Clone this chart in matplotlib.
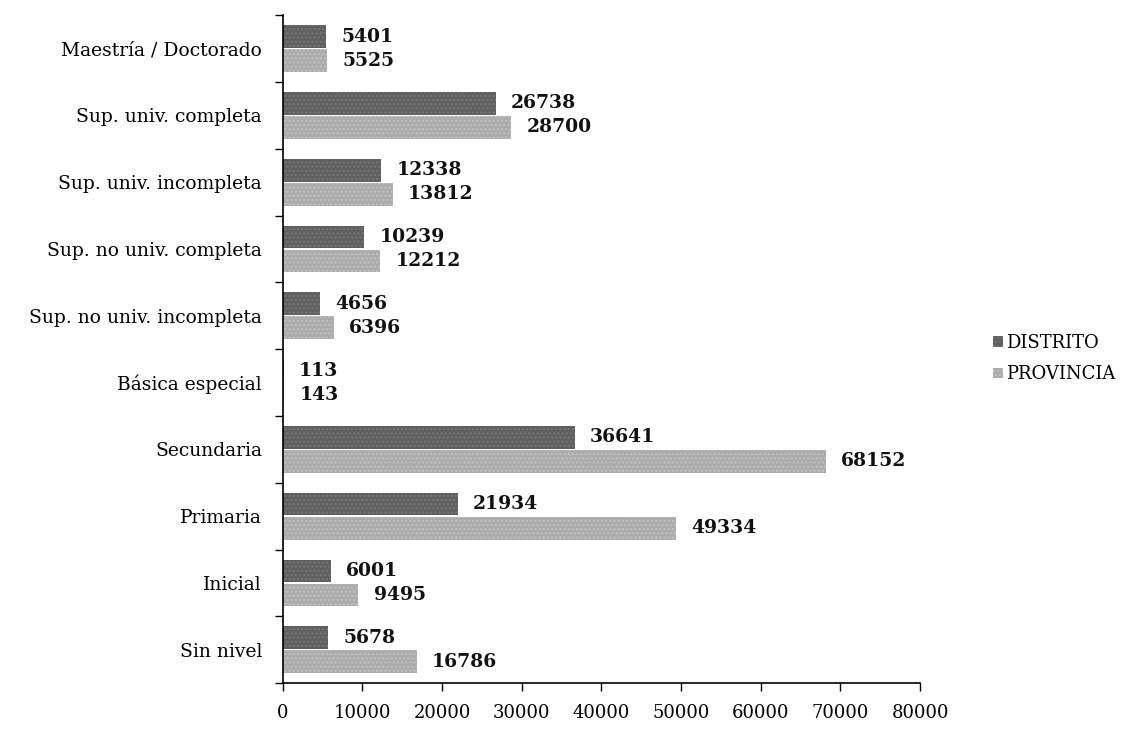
import matplotlib
matplotlib.use("Agg")
import matplotlib.pyplot as plt
import numpy as np
from matplotlib.ticker import FixedLocator

categories = ["Sin nivel", "Inicial", "Primaria", "Secundaria", "Básica especial",
              "Sup. no univ. incompleta", "Sup. no univ. completa",
              "Sup. univ. incompleta", "Sup. univ. completa", "Maestría / Doctorado"]
distrito = [5678, 6001, 21934, 36641, 113, 4656, 10239, 12338, 26738, 5401]
provincia = [16786, 9495, 49334, 68152, 143, 6396, 12212, 13812, 28700, 5525]
xticks = [0, 10000, 20000, 30000, 40000, 50000, 60000, 70000, 80000]

plt.rcParams['font.family'] = ['DejaVu Serif']

fig = plt.figure(figsize=(11.45, 7.29), dpi=100)
ax = fig.add_axes([0.247, 0.063, 0.8035 - 0.247, 0.979 - 0.063])

y = np.arange(len(categories))
h = 0.34
gap = 0.02
c_d = "#606060"
c_p = "#acacac"
bd = ax.barh(y + h/2 + gap/2, distrito, height=h, color=c_d, hatch="....",
             edgecolor="#777777", linewidth=0, label="DISTRITO")
bp = ax.barh(y - h/2 - gap/2, provincia, height=h, color=c_p, hatch="....",
             edgecolor="#c2c2c2", linewidth=0, label="PROVINCIA")

for yi, v in zip(y + h/2 + gap/2, distrito):
    ax.annotate(str(v), (v, yi), xytext=(11, 0), textcoords="offset points",
                va="center", ha="left", fontsize=13.5, fontweight="bold", color="#111111")
for yi, v in zip(y - h/2 - gap/2, provincia):
    ax.annotate(str(v), (v, yi), xytext=(11, 0), textcoords="offset points",
                va="center", ha="left", fontsize=13.5, fontweight="bold", color="#111111")

ax.set_xlim(0, 80000)
ax.set_ylim(-0.5, len(categories) - 0.5)
ax.set_xticks(xticks)
ax.set_xticklabels([str(t) for t in xticks], fontsize=13)
ax.set_yticks(y)
ax.set_yticklabels(categories, fontsize=13.5)
ax.yaxis.set_minor_locator(FixedLocator(np.arange(-0.5, len(categories), 1)))
ax.tick_params(axis="y", which="major", length=0, pad=15)
ax.tick_params(axis="y", which="minor", length=6, width=1, direction="out")
ax.tick_params(axis="x", which="major", length=6, width=1, direction="out", pad=9)

for s in ["top", "right"]:
    ax.spines[s].set_visible(False)
ax.spines["left"].set_linewidth(1.2)
ax.spines["bottom"].set_linewidth(1.2)

leg = fig.legend(handles=[bd, bp], labels=["DISTRITO", "PROVINCIA"],
                 loc="center left", bbox_to_anchor=(0.853, 0.508), frameon=False,
                 fontsize=13, handlelength=0.55, handleheight=0.55, handletextpad=0.15,
                 labelspacing=0.75)

fig.savefig("out.png", dpi=100)
